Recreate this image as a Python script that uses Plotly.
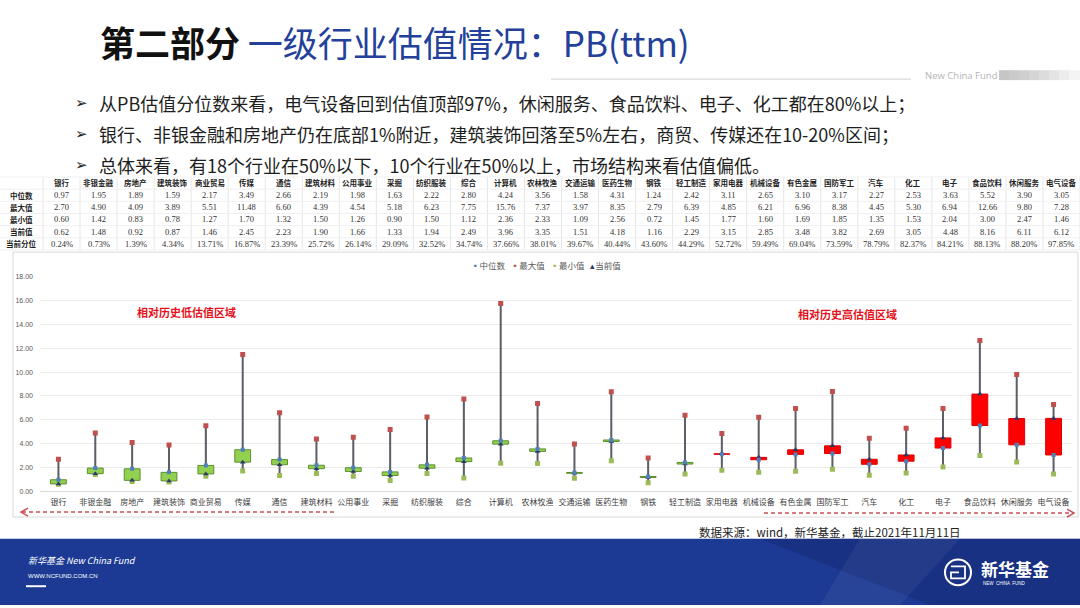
import plotly.graph_objects as go

# ---------------- data ----------------
categories = ["银行", "非银金融", "房地产", "建筑装饰", "商业贸易", "传媒", "通信", "建筑材料",
              "公用事业", "采掘", "纺织服装", "综合", "计算机", "农林牧渔", "交通运输", "医药生物",
              "钢铁", "轻工制造", "家用电器", "机械设备", "有色金属", "国防军工", "汽车", "化工",
              "电子", "食品饮料", "休闲服务", "电气设备"]
median = [0.97, 1.95, 1.89, 1.59, 2.17, 3.49, 2.66, 2.19, 1.98, 1.63, 2.22, 2.80, 4.24, 3.56,
          1.58, 4.31, 1.24, 2.42, 3.11, 2.65, 3.10, 3.17, 2.27, 2.53, 3.63, 5.52, 3.90, 3.05]
maximum = [2.70, 4.90, 4.09, 3.89, 5.51, 11.48, 6.60, 4.39, 4.54, 5.18, 6.23, 7.75, 15.76, 7.37,
           3.97, 8.35, 2.79, 6.39, 4.85, 6.21, 6.96, 8.38, 4.45, 5.30, 6.94, 12.66, 9.80, 7.28]
minimum = [0.60, 1.42, 0.83, 0.78, 1.27, 1.70, 1.32, 1.50, 1.26, 0.90, 1.50, 1.12, 2.36, 2.33,
           1.09, 2.56, 0.72, 1.45, 1.77, 1.60, 1.69, 1.85, 1.35, 1.53, 2.04, 3.00, 2.47, 1.46]
current = [0.62, 1.48, 0.92, 0.87, 1.46, 2.45, 2.23, 1.90, 1.66, 1.33, 1.94, 2.49, 3.96, 3.35,
           1.51, 4.18, 1.16, 2.29, 3.15, 2.85, 3.48, 3.82, 2.69, 3.05, 4.48, 8.16, 6.11, 6.12]
percentile = [0.24, 0.73, 1.39, 4.34, 13.71, 16.87, 23.39, 25.72, 26.14, 29.09, 32.52, 34.74,
              37.66, 38.01, 39.67, 40.44, 43.60, 44.29, 52.72, 59.49, 69.04, 73.59, 78.79, 82.37,
              84.21, 88.13, 88.20, 97.85]
row_labels = ["中位数", "最大值", "最小值", "当前值", "当前分位"]
y_ticks = [0, 2, 4, 6, 8, 10, 12, 14, 16, 18]

title_bold = "第二部分"
title_rest = "一级行业估值情况：PB(ttm)"
bullets = [
    "从PB估值分位数来看，电气设备回到估值顶部97%，休闲服务、食品饮料、电子、化工都在80%以上；",
    "银行、非银金融和房地产仍在底部1%附近，建筑装饰回落至5%左右，商贸、传媒还在10-20%区间；",
    "总体来看，有18个行业在50%以下，10个行业在50%以上，市场结构来看估值偏低。",
]
source_text = "数据来源：wind，新华基金，截止2021年11月11日"

# ---------------- helpers ----------------
W, H = 1080, 608
CJK = "Noto Sans CJK SC"


def px(x):
    return x / W


def py(y):
    return 1 - y / H


fig = go.Figure()

# whiskers (min -> max)
fig.add_trace(go.Bar(
    x=categories, y=[a - b for a, b in zip(maximum, minimum)], base=minimum,
    width=0.055, marker=dict(color="#5b5f66", line=dict(width=0)),
    name="区间", showlegend=False, hoverinfo="skip"))

# boxes (median <-> current)
box_base = [min(m, c) for m, c in zip(median, current)]
box_h = [abs(c - m) for m, c in zip(median, current)]
box_fill = ["#FF0000" if c > m else "#92D050" for m, c in zip(median, current)]
box_line = ["#E00000" if c > m else "#5E8F2E" for m, c in zip(median, current)]
fig.add_trace(go.Bar(
    x=categories, y=box_h, base=box_base, width=0.43,
    marker=dict(color=box_fill, line=dict(color=box_line, width=1)),
    name="区间框", showlegend=False, hoverinfo="skip"))

fig.add_trace(go.Scatter(x=categories, y=maximum, mode="markers", name="最大值",
                         marker=dict(symbol="square", size=5, color="#C0504D")))
fig.add_trace(go.Scatter(x=categories, y=minimum, mode="markers", name="最小值",
                         marker=dict(symbol="square", size=5, color="#9BBB59")))
fig.add_trace(go.Scatter(x=categories, y=current, mode="markers", name="当前值",
                         marker=dict(symbol="triangle-up", size=5, color="#2B3A67")))
fig.add_trace(go.Scatter(x=categories, y=median, mode="markers", name="中位数",
                         marker=dict(symbol="square", size=4, color="#4F81BD")))

# ---------------- layout ----------------
fig.update_layout(
    width=W, height=H, margin=dict(l=0, r=0, t=0, b=0),
    paper_bgcolor="white", plot_bgcolor="white",
    barmode="overlay", showlegend=False,
    font=dict(family=CJK),
    xaxis=dict(domain=[px(40), px(1072)], type="category", range=[-0.5, 27.5],
               showgrid=False, showline=True, linecolor="#d9d9d9", linewidth=1,
               ticks="", tickfont=dict(size=8, color="#404040", family=CJK),
               ticklabelstandoff=3, fixedrange=True),
    yaxis=dict(domain=[py(493), py(276)], range=[0, 18], tickvals=y_ticks,
               tickformat=".2f", showgrid=True, gridcolor="#ececec", gridwidth=1,
               zeroline=False, showline=False, ticks="",
               tickfont=dict(size=7, color="#595959", family="Liberation Sans"),
               ticklabelstandoff=6, fixedrange=True),
)

shapes = []
annotations = []


def note(text, x, y, size, color, family=CJK, xanchor="center", yanchor="middle"):
    annotations.append(dict(text=text, x=px(x), y=py(y), xref="paper", yref="paper",
                            xanchor=xanchor, yanchor=yanchor, showarrow=False,
                            font=dict(size=size, color=color, family=family)))


# ---------------- table (text grid) ----------------
T_TOP, T_BOT = 175, 249
LABEL_W = 43
COL_W = (W - LABEL_W) / len(categories)
ROW_Y = [181 + 12.3 * k for k in range(6)]
for k in range(len(categories) + 1):
    xx = LABEL_W + COL_W * k
    shapes.append(dict(type="line", xref="paper", yref="paper", x0=px(xx), x1=px(xx),
                       y0=py(T_BOT), y1=py(T_TOP), line=dict(color="#e6e6e6", width=1)))
for k in range(7):
    yy = 175 + 12.3 * k
    shapes.append(dict(type="line", xref="paper", yref="paper", x0=0, x1=1,
                       y0=py(yy), y1=py(yy), line=dict(color="#f0f0f0", width=1)))

for r, lab in enumerate(row_labels):
    note(f"<b>{lab}</b>", LABEL_W / 2, ROW_Y[r + 1], 7.5, "#222222")
for i, cat in enumerate(categories):
    cx = LABEL_W + COL_W * (i + 0.5)
    note(f"<b>{cat}</b>", cx, ROW_Y[0], 7.5, "#222222")
    vals = [f"{median[i]:.2f}", f"{maximum[i]:.2f}", f"{minimum[i]:.2f}",
            f"{current[i]:.2f}", f"{percentile[i]:.2f}%"]
    for r, v in enumerate(vals):
        note(v, cx, ROW_Y[r + 1], 8.5, "#333333", family="Liberation Serif")

# chart frame
shapes.append(dict(type="rect", xref="paper", yref="paper", x0=px(13), x1=px(1078),
                   y0=py(519), y1=py(251), line=dict(color="#d9d9d9", width=1), layer="below"))

# header rule + gradient bar
shapes.append(dict(type="line", xref="paper", yref="paper", x0=px(551), x1=px(911),
                   y0=py(76), y1=py(76), line=dict(color="#cfcfcf", width=1)))
grad = ["#c6c6c6", "#cacaca", "#cfcfcf", "#d5d5d5", "#dcdcdc", "#e4e4e4", "#ececec", "#f4f4f4"]
for i, col in enumerate(grad):
    shapes.append(dict(type="rect", xref="paper", yref="paper",
                       x0=px(999 + i * 10), x1=px(1009 + i * 10 + 1),
                       y0=py(77), y1=py(67), line=dict(width=0), fillcolor=col))
note("New China Fund", 923, 72, 9.5, "#b4b4b4", family="Open Sans", xanchor="left")

# title
note(f"<b>{title_bold}</b> <span style='color:#23409A'>{title_rest}</span>",
     98, 38, 35, "#111111", xanchor="left")

# bullets
for t, yy in zip(bullets, [100, 132, 163]):
    note("➢", 73, yy, 15, "#222222", family="DejaVu Sans", xanchor="left")
    note(t, 97, yy, 18, "#1e1e1e", xanchor="left")

# legend (as text line)
legend_txt = ("<span style='color:#4F81BD'>▪</span>中位数   "
              "<span style='color:#C0504D'>▪</span>最大值   "
              "<span style='color:#9BBB59'>▪</span>最小值   "
              "<span style='color:#2B3A67'>▴</span>当前值")
note(legend_txt, 546, 264, 8.5, "#595959")

# zone labels
note("<b>相对历史低估值区域</b>", 187, 312, 11, "#E5121C")
note("<b>相对历史高估值区域</b>", 847, 314, 11, "#E5121C")

# dashed arrows
arrow_col = "#C9505A"
shapes.append(dict(type="line", xref="paper", yref="paper", x0=px(22), x1=px(336),
                   y0=py(514), y1=py(514), line=dict(color=arrow_col, width=1.5, dash="4px,3px")))
shapes.append(dict(type="path", xref="paper", yref="paper",
                   path=f"M {px(28)},{py(510)} L {px(21)},{py(514)} L {px(28)},{py(518)}",
                   line=dict(color=arrow_col, width=1.5)))
shapes.append(dict(type="line", xref="paper", yref="paper", x0=px(764), x1=px(1073),
                   y0=py(515), y1=py(515), line=dict(color=arrow_col, width=1.5, dash="4px,3px")))
shapes.append(dict(type="path", xref="paper", yref="paper",
                   path=f"M {px(1067)},{py(511)} L {px(1074)},{py(515)} L {px(1067)},{py(519)}",
                   line=dict(color=arrow_col, width=1.5)))

# source
note(source_text, 697, 534, 11.5, "#222222", xanchor="left")

# footer band
shapes.append(dict(type="rect", xref="paper", yref="paper", x0=0, x1=1, y0=0, y1=py(541),
                   line=dict(width=0), fillcolor="#1C3A94"))
shapes.append(dict(type="path", xref="paper", yref="paper",
                   path=(f"M {px(760)},{py(541)} L {px(1080)},{py(541)} L {px(1080)},{py(608)} "
                         f"L {px(930)},{py(608)} Z"),
                   line=dict(width=0), fillcolor="rgba(10,25,80,0.25)"))
shapes.append(dict(type="path", xref="paper", yref="paper",
                   path=(f"M {px(860)},{py(541)} L {px(960)},{py(541)} L {px(900)},{py(608)} "
                         f"L {px(820)},{py(608)} Z"),
                   line=dict(width=0), fillcolor="rgba(255,255,255,0.05)"))
note("<i>新华基金 New China Fund</i>", 26, 563, 9, "white", xanchor="left")
note("WWW.NCFUND.COM.CN", 26, 579, 6, "white", family="Liberation Sans", xanchor="left")
shapes.append(dict(type="rect", xref="paper", yref="paper", x0=px(26), x1=px(46),
                   y0=py(590), y1=py(588), line=dict(width=0), fillcolor="white"))

# logo
shapes.append(dict(type="circle", xref="paper", yref="paper", x0=px(945), x1=px(971),
                   y0=py(588), y1=py(562), line=dict(color="white", width=2)))
shapes.append(dict(type="path", xref="paper", yref="paper",
                   path=(f"M {px(951)},{py(569)} L {px(965)},{py(569)} L {px(965)},{py(581)} "
                         f"L {px(951)},{py(581)} L {px(951)},{py(575)} L {px(959)},{py(575)}"),
                   line=dict(color="white", width=1.8)))
note("<b>新华基金</b>", 979, 571, 17, "white", xanchor="left")
note("NEW  CHINA  FUND", 981, 586, 4.5, "white", family="Liberation Sans", xanchor="left")

fig.update_layout(shapes=shapes, annotations=annotations)

fig.write_html("out.html")
